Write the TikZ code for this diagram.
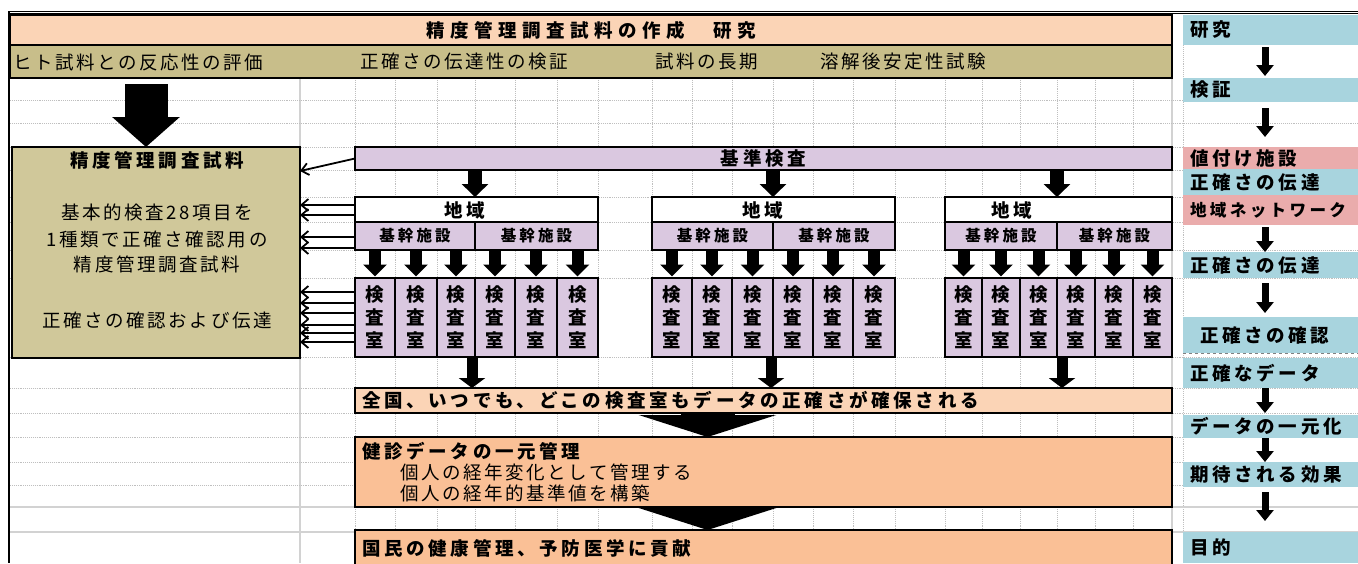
\documentclass[tikz,border=0pt]{standalone}
\usepackage{fontspec}
\setmainfont{Noto Sans CJK JP}[LetterSpace=14, BoldFeatures={LetterSpace=20}]
\newfontfamily\widejp{Noto Sans CJK JP}[LetterSpace=30, BoldFeatures={LetterSpace=30}]
\usetikzlibrary{arrows.meta}
\definecolor{peach}{RGB}{251,212,182}
\definecolor{khaki}{RGB}{200,190,138}
\definecolor{khakiL}{RGB}{208,200,154}
\definecolor{lav}{RGB}{218,200,224}
\definecolor{lblue}{RGB}{168,212,222}
\definecolor{lpink}{RGB}{234,172,172}
\definecolor{orng}{RGB}{250,192,150}
\newcommand\jfs{\fontsize{18.5}{21}\selectfont}
\tikzset{
  cell/.style={draw=black, line width=1.5pt, inner sep=0pt, outer sep=0pt, anchor=north west},
  txt/.style={inner sep=0pt, outer sep=0pt, font=\jfs},
  txb/.style={inner sep=0pt, outer sep=0pt, font=\jfs\bfseries},
  bar/.style={cell, minimum width=817pt, text width=803pt, inner xsep=7pt, align=left, font=\jfs\bfseries},
  rl/.style={anchor=north west, inner sep=0pt, inner xsep=7pt, outer sep=0pt, minimum width=175pt, text width=161pt, align=left, font=\jfs\bfseries, fill=lblue},
  gridd/.style={gray!50, densely dotted, line width=0.9pt},
  grids/.style={gray!35, line width=2pt},
  bigA/.style={line width=43pt, -{Triangle[width=66pt,length=30pt]}},
  fatA/.style={line width=14pt, -{Triangle[width=26pt,length=13pt]}},
  midA/.style={line width=12pt, -{Triangle[width=23pt,length=12pt]}, shorten >=1.5pt},
  downA/.style={line width=11pt, -{Triangle[width=26pt,length=10pt]}},
  wideA/.style={line width=54pt, -{Triangle[width=137pt,length=22pt]}},
  rA/.style={line width=7pt, -{Triangle[width=17pt,length=11pt]}},
  lA/.style={line width=1.8pt, -{Straight Barb[length=7pt,width=12pt]}},
}
\begin{document}
\begin{tikzpicture}[x=1pt,y=-1pt]
\useasboundingbox (0,0) rectangle (1358,563);
\clip (0,0) rectangle (1358,563);
\fill[white] (0,0) rectangle (1358,563);
% spreadsheet grid
\foreach \gx in {355,395,437,475,515,557,598,652,692,732,773,813,853,895,945,982,1020,1057,1095,1133}
  \draw[gridd] (\gx,78) -- (\gx,563);
\draw[gridd] (1183,15) -- (1183,563);
\foreach \gx in {300,1172} \draw[grids] (\gx,78) -- (\gx,563);
\foreach \gy in {100,123,147,170,197,222,250,278,357,388,413,437,462,485}
  \draw[gridd] (10,\gy) -- (1358,\gy);
\foreach \gy in {507,532} \draw[grids] (10,\gy) -- (1358,\gy);
% frame
\draw[line width=1pt] (8,11) -- (1358,11);
\draw[line width=1pt] (8,13.5) -- (1358,13.5);
\draw[line width=2pt] (9,11) -- (9,563);
% top rows
\node[cell, fill=peach, minimum width=1162pt, minimum height=30pt, font=\widejp\jfs\bfseries] (banner) at (10,15) {精度管理調査試料の作成\hspace{28pt}研究};
\node[cell, fill=khaki, minimum width=1162pt, minimum height=33pt] (row2) at (10,45) {};
\node[txt, anchor=west] (r2a) at (13,62) {ヒト試料との反応性の評価};
\node[txt, anchor=west] (r2b) at (360,62) {正確さの伝達性の検証};
\node[txt, anchor=west] (r2c) at (655,62) {試料の長期};
\node[txt, anchor=west] (r2d) at (820,62) {溶解後安定性試験};
% left sample box
\node[cell, fill=khakiL, minimum width=288pt, minimum height=211pt] (sample) at (12,147) {};
\node[txb] (s1) at (157,160) {精度管理調査試料};
\node[txt] (s2) at (157,212) {基本的検査28項目を};
\node[txt] (s3) at (157,240) {1種類で正確さ確認用の};
\node[txt] (s4) at (157,264) {精度管理調査試料};
\node[txt] (s5) at (157,320) {正確さの確認および伝達};
\coordinate (bigS) at (146,84);
\draw[bigA] (bigS) -- ([xshift=-10pt]sample.north);
% reference test bar
\node[cell, fill=lav, line width=1.2pt, minimum width=817pt, minimum height=23pt, font=\jfs\bfseries] (kijun) at (355,147) {基準検査};
\draw[lA] (kijun.west) -- ([yshift=-24pt]sample.north east);
% regions
\foreach \rg/\x/\w in {1/355/243,2/652/243,3/945/227}
  \node[cell, fill=white, line width=2.5pt, minimum width=\w pt, minimum height=25pt] (chiiki\rg) at (\x,197) {};
\node[txb] (chiikiT1) at (465,210) {地域};
\node[txb] (chiikiT2) at (763,210) {地域};
\node[txb] (chiikiT3) at (1012,210) {地域};
\foreach \rg/\x/\wa/\wb in {1/355/120/123, 2/652/121/122, 3/945/112/115} {
  \node[cell, fill=lav, minimum width=\wa pt, minimum height=28pt, font=\fontsize{15.5}{18}\selectfont\bfseries] (kanA\rg) at (\x,222) {基幹施設};
  \node[cell, fill=lav, minimum width=\wb pt, minimum height=28pt, font=\fontsize{15.5}{18}\selectfont\bfseries] (kanB\rg) at (kanA\rg.north east) {基幹施設};
}
\foreach \n/\x/\w in {11/355/40,12/395/42,13/437/38,14/475/40,15/515/42,16/557/41,21/652/40,22/692/40,23/732/41,24/773/40,25/813/40,26/853/42,31/945/37,32/982/38,33/1020/37,34/1057/38,35/1095/38,36/1133/39}
  \node[cell, fill=lav, line width=1.2pt, minimum width=\w pt, minimum height=79pt, align=center, font=\fontsize{18.5}{23}\selectfont\bfseries] (lab\n) at (\x,278) {検\\査\\室};
\foreach \rg in {1,2,3}
  \draw[fatA] (kijun.south -| kanA\rg.north east) -- (chiiki\rg.north -| kanA\rg.north east);
\foreach \rg in {1,2,3} {
  \foreach \cl in {1,2,3} \draw[midA] (kanA\rg.south -| lab\rg\cl.north) -- (lab\rg\cl.north);
  \foreach \cl in {4,5,6} \draw[midA] (kanB\rg.south -| lab\rg\cl.north) -- (lab\rg\cl.north);
}
% feedback arrows to the sample box
\foreach \nm/\dy in {chiiki1/4.5, chiiki1/-5.5, kanA1/-1, kanA1/-12, lab11/25.5, lab11/14.5, lab11/4.5, lab11/-7.5, lab11/-15.5, lab11/-24.5} {
  \coordinate (tmp) at ([yshift=\dy pt]\nm.west);
  \draw[lA] (tmp) -- (tmp -| sample.east);
}
% lower bars
\node[bar, fill=peach, minimum height=25pt] (zenkoku) at (355,388) {全国、いつでも、どこの検査室もデータの正確さが確保される};
\node[bar, fill=orng, minimum height=70pt, font=\jfs] (kenshin) at (355,437) {\textbf{健診データの一元管理}\\\hspace*{38pt}個人の経年変化として管理する\\\hspace*{38pt}個人の経年的基準値を構築};
\node[bar, fill=orng, minimum height=36pt] (kokumin) at (355,530) {国民の健康管理、予防医学に貢献};
\coordinate (d1) at ([xshift=-3pt]lab13.south east);
\coordinate (d2) at ([xshift=-2pt]lab23.south east);
\coordinate (d3) at ([xshift=5pt]lab33.south east);
\foreach \k in {1,2,3} \draw[downA] (d\k) -- (d\k |- zenkoku.north);
\coordinate (w1) at ([xshift=-56pt]zenkoku.south);
\draw[wideA] (w1) -- (w1 |- kenshin.north);
\coordinate (w2) at ([xshift=-56pt]kenshin.south);
\draw[wideA] (w2) -- (w2 |- kokumin.north);
% right column
\node[rl, minimum height=30pt] (kenkyu) at (1183,15) {研究};
\node[rl, minimum height=24pt] (kensho) at (1183,78) {検証};
\node[rl, fill=lpink, minimum height=22pt] (neduke) at (1183,147) {値付け施設};
\node[rl, minimum height=26pt] (dent1) at (1183,169) {正確さの伝達};
\node[rl, fill=lpink, minimum height=30pt, font=\fontsize{16.6}{21}\selectfont\bfseries] (network) at (1183,195) {地域ネットワーク};
\node[rl, minimum height=26pt] (dent2) at (1183,252) {正確さの伝達};
\node[rl, minimum height=36pt] (kakunin) at (1183,317) {\hspace*{10pt}正確さの確認};
\node[rl, minimum height=30pt] (seikaku) at (1183,358) {正確なデータ};
\node[rl, minimum height=23pt] (ichigen) at (1183,415) {データの一元化};
\node[rl, minimum height=25pt] (kitai) at (1183,462) {期待される効果};
\node[rl, minimum height=31pt] (mokuteki) at (1183,532) {目的};
\draw[gray, dashed, line width=1pt] (kakunin.south west) -- (kakunin.south east);
\foreach \a/\b/\s/\e in {kenkyu/kensho/2/2, kensho/neduke/6/10, network/dent2/2/0, dent2/kakunin/5/4, seikaku/ichigen/0/2, ichigen/kitai/0/0, kitai/mokuteki/5/11}
  \draw[rA, shorten <=\s pt, shorten >=\e pt] ([xshift=-5.5pt]\a.south) -- ([xshift=-5.5pt]\b.north);
\end{tikzpicture}
\end{document}
